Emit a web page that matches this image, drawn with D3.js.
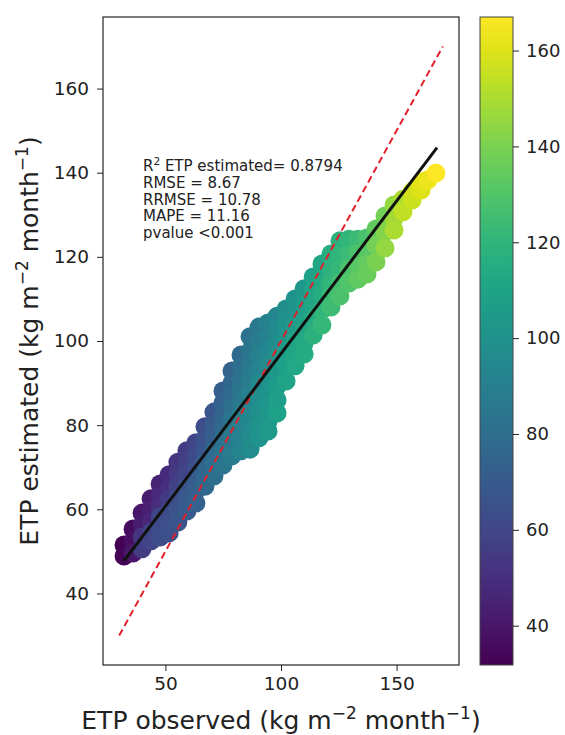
<!DOCTYPE html>
<html><head><meta charset="utf-8">
<script src="https://cdn.jsdelivr.net/npm/d3@7"></script>
<style>body{margin:0;background:#fff}</style>
</head><body><svg id="c" width="565" height="735"></svg>
<script>
// ---- data ----
const observed = [
32.1,32.1,
36.0,36.0,36.0,
39.9,39.9,39.9,39.9,
43.8,43.8,43.8,43.8,43.8,
47.7,47.7,47.7,47.7,47.7,47.7,
51.6,51.6,51.6,51.6,51.6,51.6,
55.4,55.4,55.4,55.4,55.4,55.4,
59.3,59.3,59.3,59.3,59.3,59.3,
63.2,63.2,63.2,63.2,63.2,63.2,
67.1,67.1,67.1,67.1,67.1,67.1,
71.0,71.0,71.0,71.0,71.0,71.0,
74.9,74.9,74.9,74.9,74.9,74.9,74.9,
78.8,78.8,78.8,78.8,78.8,78.8,78.8,78.8,
82.7,82.7,82.7,82.7,82.7,82.7,82.7,82.7,82.7,
86.6,86.6,86.6,86.6,86.6,86.6,86.6,86.6,86.6,
90.5,90.5,90.5,90.5,90.5,90.5,90.5,90.5,90.5,
94.4,94.4,94.4,94.4,94.4,94.4,94.4,94.4,94.4,
98.3,98.3,98.3,98.3,98.3,98.3,98.3,98.3,
102.2,102.2,102.2,102.2,102.2,102.2,
106.1,106.1,106.1,106.1,106.1,106.1,
110.0,110.0,110.0,110.0,110.0,110.0,
113.9,113.9,113.9,113.9,113.9,
117.7,117.7,117.7,117.7,117.7,
121.6,121.6,121.6,121.6,121.6,
125.5,125.5,125.5,125.5,125.5,
129.4,129.4,129.4,129.4,
133.3,133.3,133.3,133.3,
137.2,137.2,137.2,137.2,
141.1,141.1,141.1,
145.0,145.0,145.0,
148.9,148.9,148.9,
152.8,152.8,
156.7,156.7,
160.6,160.6,
163.6,167.0
];
const estimated = [
51.5,48.9,
55.3,52.5,49.6,
59.1,56.3,53.4,50.6,
62.5,59.8,57.2,54.6,52.5,
66.0,63.4,60.8,58.2,55.6,53.4,
68.2,65.3,62.5,59.6,56.7,54.4,
71.2,68.4,65.5,62.7,59.8,57.0,
73.9,71.0,68.2,65.3,62.5,59.6,
75.8,72.9,70.1,67.2,64.4,61.5,
79.6,76.7,73.9,71.0,68.2,65.5,
83.1,80.0,76.9,73.9,70.8,67.9,
88.1,85.3,82.4,79.6,76.5,73.4,70.5,
92.9,90.0,87.2,84.3,81.5,78.6,75.5,72.7,
96.7,93.8,91.0,88.1,85.3,82.4,79.6,76.7,73.9,
101.0,97.6,94.3,91.0,87.6,84.3,81.0,77.7,74.3,
103.3,100.0,96.7,93.3,90.0,86.7,83.4,80.0,77.0,
104.3,101.0,97.6,94.3,91.0,87.6,84.3,81.0,78.6,
105.9,102.6,99.3,96.0,92.6,89.3,86.0,82.9,
107.6,104.3,101.0,97.6,94.3,90.5,
110.0,106.7,103.3,100.0,96.7,94.1,
112.4,109.0,105.7,102.4,99.5,96.9,
115.2,111.9,108.6,105.2,101.4,
118.3,114.7,111.2,107.4,103.8,
120.7,117.3,114.0,110.7,108.1,
123.8,120.4,117.1,113.8,110.7,
124.2,120.7,117.1,113.8,
124.2,120.9,117.8,114.7,
124.5,121.2,118.3,115.9,
126.6,122.8,118.8,
129.7,125.9,122.1,
132.3,129.2,126.4,
133.7,130.7,
133.5,135.5,
135.9,137.8,
138.3,139.9
];
const colorValue = [
31.8,33,
36,37,40,
40,42,52,56,
42,44,46,58,60,
45,47,50,60,62,63,
48,50,55,62,64,65,
52,54,58,64,66,67,
56,58,60,67,69,70,
60,62,64,70,72,73,
64,66,68,74,76,77,
68,70,72,78,80,81,
72,73,75,77,82,84,85,
74,76,78,80,84,86,87,88,
78,80,82,84,86,90,91,92,93,
82,84,86,88,90,94,95,96,97,
86,88,90,92,96,98,99,100,101,
90,92,94,96,100,102,103,104,105,
94,96,98,100,104,106,107,108,
98,100,102,106,108,110,
100,102,106,110,112,113,
104,106,108,112,114,115,
108,110,112,116,118,
112,114,116,120,122,
116,118,120,124,125,
118,120,122,126,128,
120,124,128,130,
124,128,132,134,
128,132,135,136,
134,138,140,
138,142,145,
145,148,150,
150,154,
156,157,
160,161,
163,167
];
const yTickValues = [40, 60, 80, 100, 120, 140, 160];
const xTickValues = [50, 100, 150];
const colorbarTicks = [40, 60, 80, 100, 120, 140, 160];
const fitSlope = 0.725, fitIntercept = 24.5;
const oneToOne = [30, 170];
const statsLines = ["RMSE = 8.67", "RRMSE = 10.78", "MAPE = 11.16", "pvalue <0.001"];
const r2Text = "0.8794";

// ---- layout ----
const svg = d3.select("#c");
const L = 103, R = 459, T = 17, B = 665;
const font = "DejaVu Sans, sans-serif";
const x = d3.scaleLinear().domain([23, 177]).range([L, R]);
const y = d3.scaleLinear().domain([23, 177]).range([B, T]);
const cExt = d3.extent(colorValue);
const color = d3.scaleSequential(d3.interpolateViridis).domain(cExt);

const pts = observed.map((o, i) => ({o, e: estimated[i], c: colorValue[i]}));

const plot = svg.append("g");
plot.selectAll("circle").data(pts).join("circle")
  .attr("cx", d => x(d.o)).attr("cy", d => y(d.e)).attr("r", 9.5)
  .attr("fill", d => color(d.c));

// 1:1 line
plot.append("line")
  .attr("x1", x(oneToOne[0])).attr("y1", y(oneToOne[0]))
  .attr("x2", x(oneToOne[1])).attr("y2", y(oneToOne[1]))
  .attr("stroke", "#e0202a").attr("stroke-width", 2).attr("stroke-dasharray", "7,4");

// fit line
const xmin = d3.min(observed), xmax = d3.max(observed) + 0.5;
plot.append("line")
  .attr("x1", x(xmin)).attr("y1", y(fitIntercept + fitSlope * xmin))
  .attr("x2", x(xmax)).attr("y2", y(fitIntercept + fitSlope * xmax))
  .attr("stroke", "#111").attr("stroke-width", 3);

// frame
svg.append("rect").attr("x", L).attr("y", T).attr("width", R - L).attr("height", B - T)
  .attr("fill", "none").attr("stroke", "#222").attr("stroke-width", 1.2);

// axes
const yAxis = svg.append("g").attr("transform", `translate(${L},0)`)
  .call(d3.axisLeft(y).tickValues(yTickValues).tickSize(6).tickPadding(8));
const xAxis = svg.append("g").attr("transform", `translate(0,${B})`)
  .call(d3.axisBottom(x).tickValues(xTickValues).tickSize(6).tickPadding(6));
[yAxis, xAxis].forEach(a => {
  a.select(".domain").remove();
  a.selectAll("line").attr("stroke", "#222");
  a.selectAll("text").attr("font-family", font).attr("font-size", 18.5).attr("fill", "#222");
});

// stats annotation
const st = svg.append("g").attr("font-family", font).attr("font-size", 15).attr("fill", "#222");
const t0 = st.append("text").attr("x", 143).attr("y", 171);
t0.append("tspan").text("R");
t0.append("tspan").attr("font-size", 10.5).attr("dy", -6).text("2");
t0.append("tspan").attr("dy", 6).text(" ETP estimated= " + r2Text);
statsLines.forEach((s, i) => {
  st.append("text").attr("x", 143).attr("y", 188 + i * 16.5).text(s);
});

// axis labels
function unitLabel(sel, prefix) {
  sel.append("tspan").text(prefix + " (kg m");
  sel.append("tspan").attr("font-size", 17).attr("dy", -10).text("\u22122");
  sel.append("tspan").attr("dy", 10).text(" month");
  sel.append("tspan").attr("font-size", 17).attr("dy", -10).text("\u22121");
  sel.append("tspan").attr("dy", 10).text(")");
}
const xl = svg.append("text").attr("x", (L + R) / 2).attr("y", 729)
  .attr("text-anchor", "middle").attr("font-family", font).attr("font-size", 25).attr("fill", "#222");
unitLabel(xl, "ETP observed");
const yl = svg.append("text").attr("transform", `translate(38,${(T + B) / 2}) rotate(-90)`)
  .attr("text-anchor", "middle").attr("font-family", font).attr("font-size", 25).attr("fill", "#222");
unitLabel(yl, "ETP estimated");

// colorbar
const cbL = 480, cbR = 513;
const cy = d3.scaleLinear().domain(cExt).range([B, T]);
const defs = svg.append("defs");
const grad = defs.append("linearGradient").attr("id", "vir")
  .attr("x1", 0).attr("y1", 1).attr("x2", 0).attr("y2", 0);
d3.range(0, 1.0001, 0.05).forEach(t => {
  grad.append("stop").attr("offset", t).attr("stop-color", d3.interpolateViridis(t));
});
svg.append("rect").attr("x", cbL).attr("y", T).attr("width", cbR - cbL).attr("height", B - T)
  .attr("fill", "url(#vir)").attr("stroke", "#444").attr("stroke-width", 1);
const cAxis = svg.append("g").attr("transform", `translate(${cbR},0)`)
  .call(d3.axisRight(cy).tickValues(colorbarTicks).tickSize(6).tickPadding(7));
cAxis.select(".domain").remove();
cAxis.selectAll("line").attr("stroke", "#222");
cAxis.selectAll("text").attr("font-family", font).attr("font-size", 18).attr("fill", "#222");
</script></body></html>
